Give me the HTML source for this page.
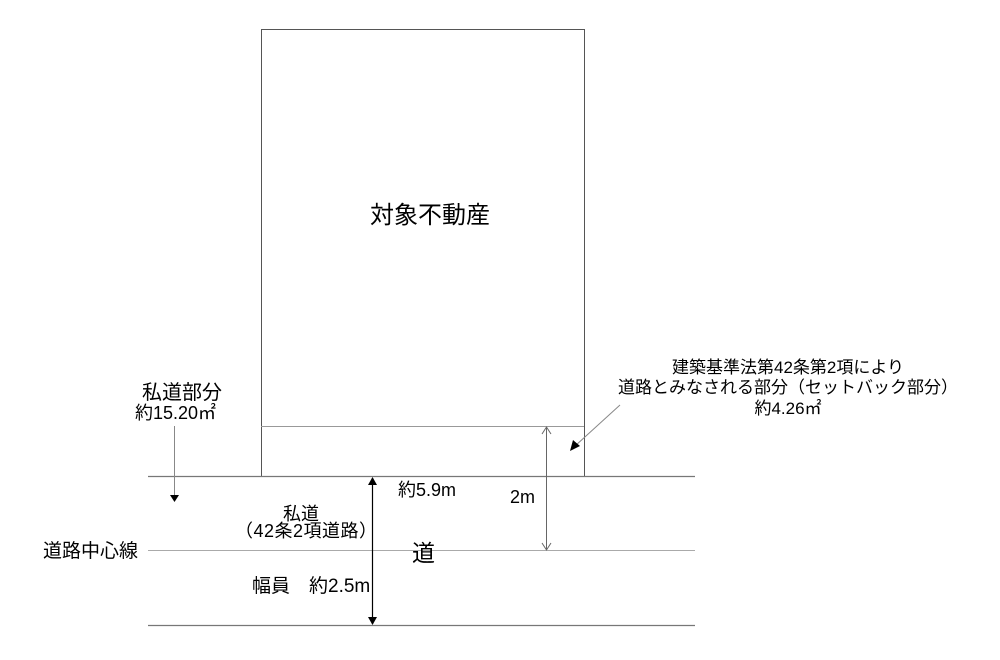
<!DOCTYPE html>
<html><head><meta charset="utf-8"><style>
body{margin:0;background:#fff;}
svg text{font-family:"Liberation Sans","Noto Sans CJK JP",sans-serif;fill:#000;}
</style></head><body>
<svg width="1000" height="655" viewBox="0 0 1000 655" xmlns="http://www.w3.org/2000/svg">
<rect x="0" y="0" width="1000" height="655" fill="#fff"/>
<rect x="261.5" y="29.5" width="323" height="447" fill="none" stroke="#555" stroke-width="1"/>
<line x1="261" y1="426.5" x2="584" y2="426.5" stroke="#999"/>
<line x1="148" y1="476.5" x2="695" y2="476.5" stroke="#777" stroke-width="1.3"/>
<line x1="148" y1="550.5" x2="695" y2="550.5" stroke="#aaa"/>
<line x1="148" y1="625.5" x2="695" y2="625.5" stroke="#777" stroke-width="1.3"/>
<line x1="546.5" y1="427" x2="546.5" y2="550" stroke="#666"/>
<polyline points="542,434 546.5,427 551,434" fill="none" stroke="#666"/>
<polyline points="542,543 546.5,550 551,543" fill="none" stroke="#666"/>
<line x1="620" y1="405" x2="575" y2="446" stroke="#888"/>
<polygon points="570,451 573,440 580,446" fill="#000"/>
<line x1="174.5" y1="426" x2="174.5" y2="495" stroke="#888"/>
<polygon points="170,495 179,495 174.5,502" fill="#000"/>
<line x1="372.5" y1="478" x2="372.5" y2="624" stroke="#000" stroke-width="1.2"/>
<polygon points="368,485 377,485 372.5,477" fill="#000"/>
<polygon points="368,617 377,617 372.5,625" fill="#000"/>
<text x="430" y="223" font-size="24" text-anchor="middle">対象不動産</text>
<g font-size="17" text-anchor="middle">
<text x="788" y="373">建築基準法第42条第2項により</text>
<text x="788" y="393">道路とみなされる部分（セットバック部分）</text>
<text x="788" y="414">約4.26㎡</text>
</g>
<text x="142" y="399" font-size="20">私道部分</text>
<text x="135" y="419" font-size="18">約15.20㎡</text>
<text x="398" y="496" font-size="18">約5.9m</text>
<text x="510" y="503" font-size="18">2m</text>
<text x="283" y="520" font-size="18">私道</text>
<text x="235" y="537" font-size="18" letter-spacing="0.5">（42条2項道路）</text>
<text x="43" y="557" font-size="19">道路中心線</text>
<text x="252" y="592" font-size="19">幅員　約2.5m</text>
<text x="412" y="561" font-size="23">道</text>
</svg>
</body></html>
